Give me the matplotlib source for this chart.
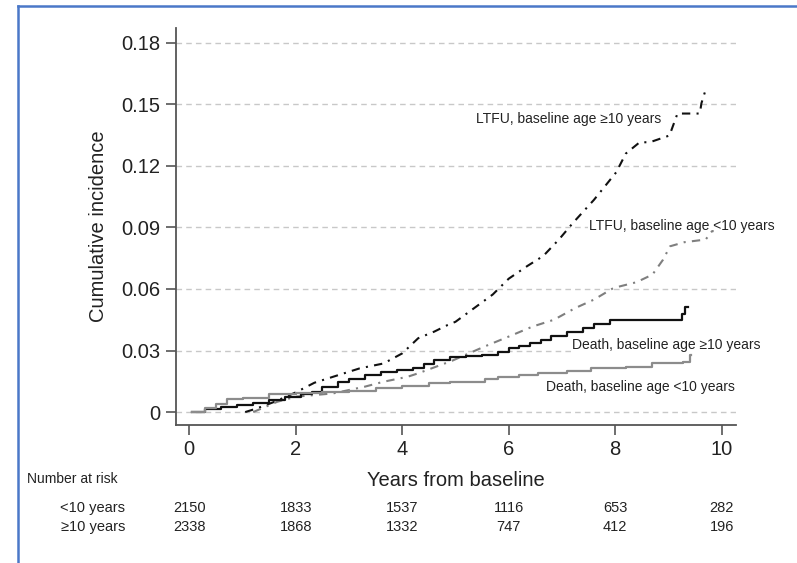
import matplotlib
matplotlib.use("Agg")
import matplotlib.pyplot as plt
import matplotlib.transforms as mtransforms
from matplotlib.lines import Line2D

plt.rcParams["font.family"] = ["Liberation Sans", "DejaVu Sans"]

# cumulative incidence curves (years from baseline, incidence)
death_old_t = [0.05, 0.3, 0.6, 0.9, 1.2, 1.5, 1.8, 2.1, 2.3, 2.5, 2.8, 3.0, 3.3, 3.6,
               3.9, 4.2, 4.4, 4.6, 4.9, 5.2, 5.5, 5.8, 6.0, 6.2, 6.4, 6.6, 6.8, 7.1,
               7.4, 7.6, 7.9, 9.25, 9.32, 9.36]
death_old_v = [0.0, 0.0015, 0.0025, 0.0035, 0.0045, 0.0058, 0.0075, 0.0088, 0.010, 0.012,
               0.0145, 0.016, 0.018, 0.0195, 0.0205, 0.0215, 0.0235, 0.0255, 0.027, 0.0272,
               0.028, 0.0295, 0.031, 0.032, 0.0335, 0.035, 0.037, 0.039, 0.041, 0.043,
               0.0447, 0.048, 0.051, 0.051]

death_young_t = [0.05, 0.3, 0.5, 0.7, 1.0, 1.5, 2.0, 2.5, 3.0, 3.5, 4.0, 4.5, 4.9,
                 5.55, 5.8, 6.2, 6.55, 7.1, 7.55, 8.2, 8.7, 9.27, 9.4, 9.42]
death_young_v = [0.0, 0.002, 0.004, 0.0062, 0.007, 0.0086, 0.0095, 0.0099, 0.0104, 0.0115,
                 0.0129, 0.0143, 0.0148, 0.0160, 0.0172, 0.018, 0.0189, 0.0202, 0.0213,
                 0.0221, 0.0241, 0.0246, 0.028, 0.028]

ltfu_old_t = [1.05, 1.27, 1.6, 2.0, 2.35, 2.7, 3.2, 3.65, 4.0, 4.3, 4.6, 4.85, 5.0, 5.4,
              5.7, 6.0, 6.35, 6.65, 6.95, 7.2, 7.6, 8.02, 8.2, 8.46, 8.65, 9.02, 9.17,
              9.59, 9.62, 9.71]
ltfu_old_v = [0.0, 0.0018, 0.005, 0.0096, 0.0143, 0.0172, 0.0213, 0.0237, 0.0286, 0.036,
              0.0392, 0.0424, 0.044, 0.0516, 0.0573, 0.065, 0.0712, 0.0761, 0.0843, 0.092,
              0.1034, 0.1169, 0.126, 0.1315, 0.1315, 0.1348, 0.1455, 0.1455, 0.1505, 0.158]

ltfu_young_t = [1.2, 1.65, 2.0, 2.7, 3.3, 3.65, 4.1, 4.3, 4.8, 4.9, 5.55, 6.0, 6.45,
                6.85, 7.25, 7.6, 7.97, 8.4, 8.7, 8.9, 9.03, 9.3, 9.7, 9.82, 9.85]
ltfu_young_v = [0.0, 0.005, 0.0075, 0.0091, 0.0124, 0.0148, 0.0172, 0.0189, 0.0237, 0.0246,
                0.032, 0.0368, 0.0417, 0.045, 0.0507, 0.0548, 0.0605, 0.0633, 0.067,
                0.0743, 0.0808, 0.0828, 0.0841, 0.0882, 0.0882]

# number at risk table
risk_times = [0, 2, 4, 6, 8, 10]
risk_young = [2150, 1833, 1537, 1116, 653, 282]
risk_old = [2338, 1868, 1332, 747, 412, 196]

fig = plt.figure(figsize=(7.97, 5.63), dpi=100)
ax = fig.add_axes([0.2208, 0.2451, 0.7027, 0.7052])

dashdot = (0, (4, 3, 1, 3))
ax.plot(ltfu_old_t, ltfu_old_v, color="#111111", lw=1.5, linestyle=dashdot, zorder=3)
ax.plot(ltfu_young_t, ltfu_young_v, color="#7f7f7f", lw=1.5, linestyle=dashdot, zorder=3)
ax.plot(death_old_t, death_old_v, drawstyle="steps-post", color="#111111", lw=1.6, zorder=3)
ax.plot(death_young_t, death_young_v, drawstyle="steps-post", color="#8c8c8c", lw=1.6, zorder=3)

ax.set_xlim(-0.25, 10.27)
ax.set_ylim(-0.0063, 0.1872)
ax.set_xticks(risk_times)
yt = [0, 0.03, 0.06, 0.09, 0.12, 0.15, 0.18]
ax.set_yticks(yt)
ax.set_yticklabels(["0", "0.03", "0.06", "0.09", "0.12", "0.15", "0.18"])
for y in yt:
    ax.axhline(y, color="#c8c8c8", lw=1.0, linestyle=(0, (4, 3)), zorder=1)

for s in ["top", "right"]:
    ax.spines[s].set_visible(False)
for s in ["left", "bottom"]:
    ax.spines[s].set_color("#555555")
    ax.spines[s].set_linewidth(1.3)
ax.tick_params(axis="both", length=7, width=1.2, color="#555555", labelsize=14.5,
               labelcolor="#222222", pad=4)

ax.set_ylabel("Cumulative incidence", fontsize=14.5, color="#222222", labelpad=10)
ax.set_xlabel("Years from baseline", fontsize=14.5, color="#222222")
ax.xaxis.set_label_coords(0.5, -0.141)
ax.xaxis.label.set_va("center")

bbox = dict(facecolor="white", edgecolor="none", pad=0.5)
ax.text(8.87, 0.1428, "LTFU, baseline age \u226510 years", ha="right", va="center",
        fontsize=10, color="#222222", bbox=bbox, zorder=2)
ax.text(7.51, 0.0907, "LTFU, baseline age <10 years", ha="left", va="center",
        fontsize=10, color="#222222", bbox=bbox, zorder=2)
ax.text(7.18, 0.0327, "Death, baseline age \u226510 years", ha="left", va="center",
        fontsize=10, color="#222222", bbox=bbox, zorder=2)
ax.text(6.70, 0.0123, "Death, baseline age <10 years", ha="left", va="center",
        fontsize=10, color="#222222", bbox=bbox, zorder=2)

# number at risk below the axis
trans = mtransforms.blended_transform_factory(ax.transData, fig.transFigure)
fig.text(0.0335, 0.1492, "Number at risk", ha="left", va="center", fontsize=10,
         color="#222222")
fig.text(0.1568, 0.0982, "<10 years", ha="right", va="center", fontsize=10.5,
         color="#222222")
fig.text(0.1568, 0.0634, "\u226510 years", ha="right", va="center", fontsize=10.5,
         color="#222222")
for t, a, b in zip(risk_times, risk_young, risk_old):
    ax.text(t, 0.0982, str(a), transform=trans, ha="center", va="center",
            fontsize=10.5, color="#222222", clip_on=False)
    ax.text(t, 0.0634, str(b), transform=trans, ha="center", va="center",
            fontsize=10.5, color="#222222", clip_on=False)

# frame lines at the top and left edges
fig.add_artist(Line2D([0.022, 0.022], [0.0, 0.989], transform=fig.transFigure,
                      color="#4a78c8", lw=1.8))
fig.add_artist(Line2D([0.022, 1.0], [0.989, 0.989], transform=fig.transFigure,
                      color="#4a78c8", lw=1.8))

fig.savefig("out.png", dpi=100)
